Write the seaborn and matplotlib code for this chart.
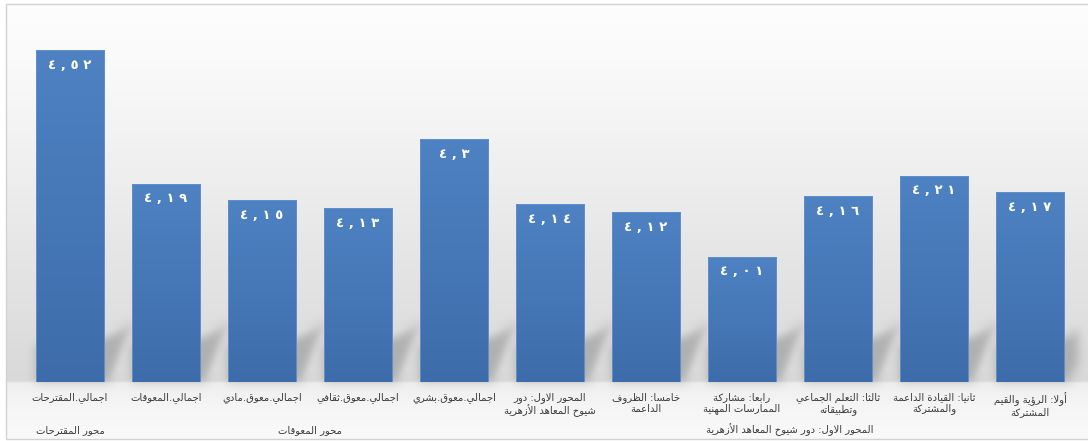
import numpy as np
import pandas as pd
import matplotlib
matplotlib.use("Agg")
import matplotlib.pyplot as plt
import seaborn as sns
from matplotlib.colors import LinearSegmentedColormap
from matplotlib.patches import Polygon, Rectangle

# ---------------------------------------------------------------- data
categories = [
    "اجمالي.المقترحات",
    "اجمالي.المعوقات",
    "اجمالي.معوق.مادي",
    "اجمالي.معوق.ثقافي",
    "اجمالي.معوق.بشري",
    "المحور الاول: دور\nشيوخ المعاهد الأزهرية",
    "خامسا: الظروف\nالداعمة",
    "رابعا: مشاركة\nالممارسات المهنية",
    "ثالثا: التعلم الجماعي\nوتطبيقاته",
    "ثانيا: القيادة الداعمة\nوالمشتركة",
    "أولا: الرؤية والقيم\nالمشتركة",
]
values = [4.52, 4.19, 4.15, 4.13, 4.30, 4.14, 4.12, 4.01, 4.16, 4.21, 4.17]
groups = ["محور المقترحات", "محور المعوقات", "المحور الاول: دور شيوخ المعاهد الأزهرية"]
group_sizes = [1, 4, 6]
y_range = (3.7, 4.6)

# ---------------------------------------------------------------- Arabic shaping
# matplotlib lays text out left-to-right without contextual joining, so the
# labels are converted to presentation forms and put in visual order.
_ORDER = [("ء", 1), ("آ", 2), ("أ", 2), ("ؤ", 2), ("إ", 2), ("ئ", 4), ("ا", 2),
          ("ب", 4), ("ة", 2), ("ت", 4), ("ث", 4), ("ج", 4), ("ح", 4), ("خ", 4),
          ("د", 2), ("ذ", 2), ("ر", 2), ("ز", 2), ("س", 4), ("ش", 4), ("ص", 4),
          ("ض", 4), ("ط", 4), ("ظ", 4), ("ع", 4), ("غ", 4), ("ف", 4), ("ق", 4),
          ("ك", 4), ("ل", 4), ("م", 4), ("ن", 4), ("ه", 4), ("و", 2), ("ى", 2),
          ("ي", 4)]
_FORMS = {}
_code = 0xFE80
for _ch, _n in _ORDER:
    _FORMS[_ch] = tuple(range(_code, _code + _n))
    _code += _n
_LAM_ALEF = {"آ": 0xFEF5, "أ": 0xFEF7, "إ": 0xFEF9, "ا": 0xFEFB}


def shape_line(text):
    units = []
    i = 0
    while i < len(text):
        c = text[i]
        if c == "ل" and i + 1 < len(text) and text[i + 1] in _LAM_ALEF:
            base = _LAM_ALEF[text[i + 1]]
            units.append((base, base + 1))
            i += 2
            continue
        units.append(_FORMS.get(c, c))
        i += 1
    out = []
    for k, u in enumerate(units):
        if isinstance(u, str):
            out.append(u)
            continue
        prev = units[k - 1] if k > 0 else None
        nxt = units[k + 1] if k + 1 < len(units) else None
        jp = isinstance(prev, tuple) and len(prev) == 4 and len(u) > 1
        jn = isinstance(nxt, tuple) and len(u) == 4 and len(nxt) > 1
        idx = 3 if (jp and jn) else 1 if jp else 2 if jn else 0
        out.append(chr(u[idx]))
    return "".join(reversed(out))


def shape(text):
    return "\n".join(shape_line(line) for line in text.split("\n"))


_AR_DIGITS = str.maketrans("0123456789.", "٠١٢٣٤٥٦٧٨٩,")


def ar_number(v):
    return " ".join(f"{v:g}".translate(_AR_DIGITS))


# ---------------------------------------------------------------- helpers
class GaussianBlur:
    """agg filter that softens whatever an artist renders."""

    def __init__(self, sigma):
        self.sigma = sigma

    def __call__(self, im, dpi):
        pad = int(np.ceil(3 * self.sigma))
        src = np.pad(im, [(pad, pad), (pad, pad), (0, 0)], mode="constant")
        r = np.arange(-pad, pad + 1)
        k = np.exp(-0.5 * (r / self.sigma) ** 2)
        k /= k.sum()
        out = np.apply_along_axis(lambda m: np.convolve(m, k, mode="same"), 0, src)
        out = np.apply_along_axis(lambda m: np.convolve(m, k, mode="same"), 1, out)
        return np.clip(out, 0, 1), -pad, -pad


# ---------------------------------------------------------------- figure
sns.set_theme(style="white")
plt.rcParams["font.family"] = ["DejaVu Sans"]

W, H, DPI = 1088, 441, 100
fig = plt.figure(figsize=(W / DPI, H / DPI), dpi=DPI, facecolor="white")

# chart-area background: light wall fading to grey towards the floor
bx0, by0, bx1, by1 = 6, 4, W, 439
bg = fig.add_axes([bx0 / W, (H - by1) / H, (bx1 - bx0) / W, (by1 - by0) / H],
                  zorder=-2)
rows = np.arange(by0, by1) + 0.5
anchors_y = [4, 60, 150, 250, 330, 381, 383, 405, 440]
anchors_v = [253, 250, 241, 230, 222, 217, 238, 245, 250]
col = np.interp(rows, anchors_y, anchors_v).astype(np.uint8)
bg_img = np.repeat(np.repeat(col[:, None, None], bx1 - bx0, axis=1), 3, axis=2)
bg.imshow(bg_img, aspect="auto", interpolation="nearest")
bg.set_axis_off()

ax_left, ax_right = 22, 1078
ax_bottom, ax_top = 382, 17.8
ax = fig.add_axes([ax_left / W, (H - ax_bottom) / H,
                   (ax_right - ax_left) / W, (ax_bottom - ax_top) / H])
ax.set_facecolor("none")

df = pd.DataFrame({"category": categories, "value": values})
sns.barplot(data=df, x="category", y="value", order=categories,
            color="#4677b6", saturation=1, width=0.71, ax=ax,
            edgecolor="none", linewidth=0, zorder=3)
bars = list(ax.patches)

ax.set_xlim(-0.5, len(categories) - 0.5)
ax.set_ylim(*y_range)

# pixel -> data scale factors
ux = (len(categories)) / (ax_right - ax_left)
uy = (y_range[1] - y_range[0]) / (ax_bottom - ax_top)
base = y_range[0]

# soft perspective shadows cast behind each bar
for p in bars:
    xl = p.get_x()
    xr = xl + p.get_width()
    pts = [(xl, base - 2 * uy), (xr + 6 * ux, base - 2 * uy),
           (xr + 30 * ux, base + 60 * uy), (xr, base + 46 * uy),
           (xl, base + 38 * uy)]
    sh = Polygon(pts, closed=True, facecolor="black", edgecolor="none",
                 alpha=0.2, zorder=1, clip_on=True)
    sh.set_agg_filter(GaussianBlur(5.0))
    ax.add_patch(sh)

# vertical shading on the bars
bar_cmap = LinearSegmentedColormap.from_list("bar", ["#3e6caa", "#4e82c3"])
grad = np.linspace(1, 0, 256).reshape(-1, 1)
for p in bars:
    x0 = p.get_x()
    w = p.get_width()
    top = p.get_y() + p.get_height()
    im = ax.imshow(grad, extent=(x0, x0 + w, base, top), aspect="auto",
                   cmap=bar_cmap, vmin=0, vmax=1, interpolation="bilinear",
                   zorder=4)
    im.set_clip_path(p)
    ax.add_patch(Rectangle((x0, base), w, top - base, facecolor="none",
                           edgecolor="#5f8fcc", linewidth=0.7, zorder=5))

ax.set_xlim(-0.5, len(categories) - 0.5)
ax.set_ylim(*y_range)

# value labels inside the top of each bar
for p, v in zip(bars, values):
    ax.annotate(ar_number(v), xy=(p.get_x() + p.get_width() / 2, v),
                xytext=(0, -11), textcoords="offset points",
                ha="center", va="center", color="white",
                fontsize=9.5, fontweight="bold", zorder=6)

# category labels
ax.set_xticks(range(len(categories)))
ax.set_xticklabels([shape(c) for c in categories], fontsize=7.2,
                   color="#3a3a3a", linespacing=1.15)
ax.tick_params(axis="x", length=0, pad=7)
ax.set_yticks([])
ax.set_xlabel("")
ax.set_ylabel("")
for s in ax.spines.values():
    s.set_visible(False)

# group labels under the categories
start = 0
for g, n in zip(groups, group_sizes):
    center = start + (n - 1) / 2
    ax.annotate(shape(g), xy=(center, 0), xycoords=("data", "axes fraction"),
                xytext=(0, -34.5), textcoords="offset points",
                ha="center", va="center", fontsize=7.2, color="#3a3a3a")
    start += n

# chart border
fig.patches.append(Rectangle((bx0 / W, (H - by1) / H), 1.0, (by1 - by0) / H,
                             transform=fig.transFigure, fill=False,
                             edgecolor="#d2d2d2", linewidth=1.0, zorder=10))

fig.savefig("out.png", dpi=DPI, facecolor="white")
